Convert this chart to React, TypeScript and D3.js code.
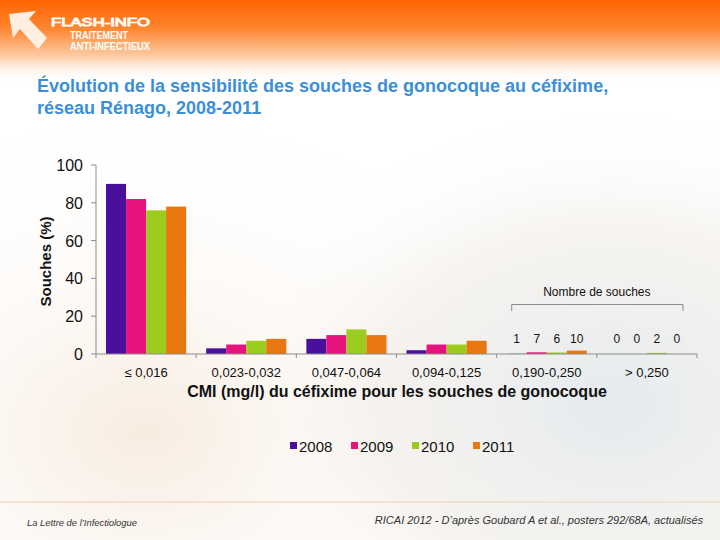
import React from "react";
import * as d3 from "d3";

const categories = ["≤ 0,016", "0,023-0,032", "0,047-0,064", "0,094-0,125", "0,190-0,250", "> 0,250"];
const years = ["2008", "2009", "2010", "2011"];
const colors = ["#4B0F9E", "#E6137D", "#9CCC1E", "#E8770F"];
const v2008 = [90, 3, 8, 2, 0.1, 0];
const v2009 = [82, 5, 10, 5, 0.9, 0];
const v2010 = [76, 7, 13, 5, 0.8, 0.6];
const v2011 = [78, 8, 10, 7, 1.8, 0];
const counts = [
  null, null, null, null,
  ["1", "7", "6", "10"],
  ["0", "0", "2", "0"],
];
const yTicks = [0, 20, 40, 60, 80, 100];

const series = [v2008, v2009, v2010, v2011];
const FONT = "Liberation Sans, Arial, Helvetica, sans-serif";

export default function App() {
  const W = 720, H = 540;
  const x0 = 96, x1 = 697, yTop = 165, yBot = 354;
  const x = d3.scaleBand<string>().domain(categories).range([x0, x1]).paddingInner(0).paddingOuter(0);
  const xi = d3.scaleBand<string>().domain(years).range([0, x.bandwidth()]).paddingOuter(0.5).paddingInner(0);
  const y = d3.scaleLinear().domain([0, 100]).range([yBot, yTop]);

  const bandX = (c: string) => x(c) as number;
  const g5 = bandX(categories[4]);
  const g6 = bandX(categories[5]);

  return (
    <svg width={W} height={H} style={{ position: "absolute", left: 0, top: 0, display: "block" }} fontFamily={FONT}>
      <defs>
        <linearGradient id="hdr" x1="0" y1="0" x2="0" y2="1">
          <stop offset="0" stopColor="#FF6400" />
          <stop offset="0.35" stopColor="#FF8630" />
          <stop offset="0.7" stopColor="#FCCFAA" />
          <stop offset="1" stopColor="#FFFFFF" stopOpacity="0" />
        </linearGradient>
        <radialGradient id="photo" cx="0.85" cy="0.75" r="0.55">
          <stop offset="0" stopColor="#DCE3E8" stopOpacity="0.75" />
          <stop offset="0.6" stopColor="#EEE9E2" stopOpacity="0.5" />
          <stop offset="1" stopColor="#FFFFFF" stopOpacity="0" />
        </radialGradient>
        <radialGradient id="warm" cx="0.2" cy="0.8" r="0.6">
          <stop offset="0" stopColor="#F6E7D8" stopOpacity="0.8" />
          <stop offset="1" stopColor="#FFFFFF" stopOpacity="0" />
        </radialGradient>
      </defs>
      <rect x={0} y={0} width={W} height={H} fill="#FFFFFF" />
      <rect x={0} y={0} width={W} height={H} fill="url(#warm)" />
      <rect x={0} y={0} width={W} height={H} fill="url(#photo)" />
      <rect x={0} y={0} width={W} height={82} fill="url(#hdr)" />

      {/* logo */}
      <g>
        <polygon points="9,14 36,11 29,19 47,38 38,49 20,29 13,38" fill="#FFF4EA" opacity={0.95} />
        <text x={51} y={26} fill="none" stroke="#FFFFFF" strokeWidth={0.9} fontSize={11}
          textLength={99} lengthAdjust="spacingAndGlyphs">FLASH-INFO</text>
        <text x={70} y={39} fill="#FFFFFF" fontSize={11} fontWeight={700}
          textLength={58} lengthAdjust="spacingAndGlyphs">TRAITEMENT</text>
        <text x={70} y={50} fill="#FFFFFF" fontSize={11} fontWeight={700}
          textLength={80} lengthAdjust="spacingAndGlyphs">ANTI-INFECTIEUX</text>
      </g>

      {/* title */}
      <text x={37} y={92} fill="#3B8FD8" fontSize={18} fontWeight={700}>
        Évolution de la sensibilité des souches de gonocoque au céfixime,
      </text>
      <text x={37} y={114} fill="#3B8FD8" fontSize={18} fontWeight={700}>
        réseau Rénago, 2008-2011
      </text>

      {/* y axis */}
      <line x1={x0} x2={x0} y1={yTop} y2={yBot} stroke="#8C8C8C" strokeWidth={1} />
      {yTicks.map((t) => (
        <g key={t}>
          <line x1={x0 - 5} x2={x0} y1={y(t)} y2={y(t)} stroke="#8C8C8C" />
          <text x={83} y={y(t) + 6} textAnchor="end" fontSize={16} fill="#111">{t}</text>
        </g>
      ))}
      <text transform={`translate(51,${(yTop + yBot) / 2 + 2}) rotate(-90)`} textAnchor="middle" fontSize={15} fontWeight={700} fill="#111">
        Souches (%)
      </text>

      {/* bars */}
      {categories.map((c, ci) => (
        <g key={c}>
          {series.map((s, si) => {
            const v = s[ci];
            if (v <= 0) return null;
            const bx = bandX(c) + (xi(years[si]) as number);
            return (
              <rect key={si} x={bx} y={y(v)} width={xi.bandwidth()} height={yBot - y(v)} fill={colors[si]} />
            );
          })}
          {counts[ci] &&
            (counts[ci] as string[]).map((n, si) => (
              <text key={"n" + si} x={bandX(c) + (xi(years[si]) as number) + xi.bandwidth() / 2} y={343}
                textAnchor="middle" fontSize={12} fill="#111">{n}</text>
            ))}
        </g>
      ))}

      {/* x axis */}
      <line x1={x0} x2={x1} y1={yBot} y2={yBot} stroke="#8C8C8C" />
      {categories.map((c, i) => (
        <line key={"t" + i} x1={bandX(c)} x2={bandX(c)} y1={yBot} y2={yBot + 4} stroke="#8C8C8C" />
      ))}
      <line x1={x1} x2={x1} y1={yBot} y2={yBot + 4} stroke="#8C8C8C" />
      {categories.map((c) => (
        <text key={"l" + c} x={bandX(c) + x.bandwidth() / 2} y={377} textAnchor="middle" fontSize={13} fill="#111">
          {c}
        </text>
      ))}
      <text x={397} y={397} textAnchor="middle" fontSize={16} fontWeight={700} fill="#111">
        CMI (mg/l) du céfixime pour les souches de gonocoque
      </text>

      {/* bracket */}
      <text x={(g5 + g6 + x.bandwidth()) / 2} y={296} textAnchor="middle" fontSize={12} fill="#111">Nombre de souches</text>
      <path d={`M${g5 + 15},311 V304.5 H${g6 + x.bandwidth() - 14} V311`} fill="none" stroke="#8C8C8C" strokeWidth={1} />

      {/* legend */}
      {years.map((yr, i) => (
        <g key={yr} transform={`translate(${290 + i * 61},0)`}>
          <rect x={0} y={442} width={7} height={7} fill={colors[i]} />
          <text x={9} y={452} fontSize={15} fill="#111">{yr}</text>
        </g>
      ))}

      {/* footer */}
      <line x1={0} x2={W} y1={502} y2={502} stroke="#F0DCC6" strokeWidth={1.5} />
      <text x={27} y={526} fontSize={9.4} fontStyle="italic" fill="#333">La Lettre de l’Infectiologue</text>
      <text x={703} y={524} textAnchor="end" fontSize={11} fontStyle="italic" fill="#333">
        RICAI 2012 - D’après Goubard A et al., posters 292/68A, actualisés
      </text>
    </svg>
  );
}
